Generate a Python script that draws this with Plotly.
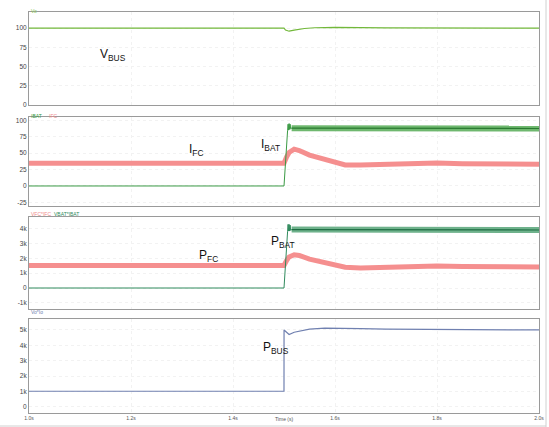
import plotly.graph_objects as go

# ---------------- data ----------------
x_ticks = [1.0, 1.2, 1.4, 1.6, 1.8, 2.0]
x_tick_labels = ["1.0s", "1.2s", "1.4s", "1.6s", "1.8s", "2.0s"]

t_vbus = [1.0, 1.5, 1.503, 1.51, 1.52, 1.54, 1.56, 1.6, 1.7, 1.8, 1.9, 2.0]
vbus = [100, 100, 97.5, 96, 97.5, 99.5, 100.5, 101, 100.4, 100.1, 100, 100]

t_ifc = [1.0, 1.5, 1.505, 1.51, 1.52, 1.53, 1.55, 1.58, 1.6, 1.62, 1.65, 1.7, 1.75, 1.8, 1.85, 1.9, 1.95, 2.0]
ifc = [34.5, 34.5, 44, 51, 56, 54, 47, 41, 36, 32, 32, 33.5, 35, 35, 34, 33.5, 33, 33]

t_ibat = [1.0, 1.5, 1.507, 1.508, 1.509, 1.510, 1.511, 1.512, 1.513, 1.515]
ibat = [0, 0, 84, 94, 85, 95, 86, 94, 87, 88]
t_ibat_band = [1.515, 1.55, 1.6, 1.7, 1.8, 1.9, 2.0]
ibat_band = [88, 88, 87.5, 87.5, 87.5, 87.5, 87.5]

t_pfc = [1.0, 1.5, 1.505, 1.51, 1.52, 1.53, 1.55, 1.58, 1.6, 1.62, 1.65, 1.7, 1.75, 1.8, 1.85, 1.9, 1.95, 2.0]
pfc = [1520, 1520, 1850, 2100, 2250, 2200, 1950, 1750, 1550, 1400, 1350, 1400, 1480, 1480, 1450, 1430, 1420, 1420]

t_pbat = [1.0, 1.5, 1.507, 1.508, 1.509, 1.510, 1.511, 1.512, 1.513, 1.515]
pbat = [0, 0, 3800, 4300, 3850, 4300, 3850, 4250, 3900, 3950]
t_pbat_band = [1.515, 1.55, 1.6, 1.7, 1.8, 1.9, 2.0]
pbat_band = [3950, 3950, 3920, 3920, 3920, 3920, 3920]

t_pbus = [1.0, 1.5, 1.5001, 1.51, 1.52, 1.55, 1.58, 1.6, 1.65, 1.7, 1.8, 1.9, 2.0]
pbus = [1020, 1020, 5000, 4700, 4850, 5050, 5120, 5120, 5080, 5050, 5030, 5010, 5000]

# ---------------- figure ----------------
W, H = 549, 427
def px(x): return x / W
def py(y): return 1 - y / H

x0, x1 = px(29), px(539)
domains = [
    [py(105), py(12)],
    [py(206), py(117)],
    [py(309), py(217)],
    [py(413), py(319)],
]
yranges = [[0, 121], [-30.5, 105], [-1420, 4800], [-390, 5710]]
ytickv = [[0, 25, 50, 75, 100], [-25, 0, 25, 50, 75, 100],
          [-1000, 0, 1000, 2000, 3000, 4000], [0, 1000, 2000, 3000, 4000, 5000]]
ytickt = [["0", "25", "50", "75", "100"], ["-25", "0", "25", "50", "75", "100"],
          ["-1k", "0", "1k", "2k", "3k", "4k"], ["0", "1k", "2k", "3k", "4k", "5k"]]

fig = go.Figure()

def add(tx, ty, i, color, width, opacity=1.0):
    sfx = "" if i == 1 else str(i)
    fig.add_trace(go.Scatter(x=tx, y=ty, mode="lines",
                             line=dict(color=color, width=width),
                             opacity=opacity, xaxis="x" + sfx, yaxis="y" + sfx,
                             showlegend=False, hoverinfo="skip"))

add(t_vbus, vbus, 1, "#72b83a", 1.2)
add(t_ifc, ifc, 2, "#f58a8a", 5, 0.95)
add(t_ibat_band, ibat_band, 2, "#6fb86f", 6)
add(t_ibat_band, ibat_band, 2, "#2a7a30", 1.2)
add(t_ibat, ibat, 2, "#3a9a44", 1)
add(t_pfc, pfc, 3, "#f58a8a", 5, 0.95)
add(t_pbat_band, pbat_band, 3, "#6fb28c", 6)
add(t_pbat_band, pbat_band, 3, "#1f6e44", 1.2)
add(t_pbat, pbat, 3, "#2f8a5c", 1)
add(t_pbus, pbus, 4, "#7080b0", 1.2)

layout = dict(width=W, height=H, margin=dict(l=0, r=0, t=0, b=0, autoexpand=False),
              paper_bgcolor="white", plot_bgcolor="white",
              font=dict(family="Liberation Sans, Arial", color="#333"))
for i in range(4):
    sfx = "" if i == 0 else str(i + 1)
    layout["xaxis" + sfx] = dict(domain=[x0, x1], range=[1.0, 2.0], automargin=False,
                                 anchor="y" + sfx, showline=True, mirror=True,
                                 linecolor="#9a9a9a", linewidth=1,
                                 showgrid=True, gridcolor="#f2f2f2", griddash="dot",
                                 tickvals=x_ticks, ticktext=x_tick_labels,
                                 showticklabels=(i == 3), ticks="",
                                 tickfont=dict(size=5, color="#555"),
                                 zeroline=False)
    layout["yaxis" + sfx] = dict(domain=domains[i], range=yranges[i], automargin=False,
                                 anchor="x" + sfx, showline=True, mirror=True,
                                 linecolor="#9a9a9a", linewidth=1,
                                 showgrid=True, gridcolor="#f2f2f2", griddash="dot",
                                 tickvals=ytickv[i], ticktext=ytickt[i], ticks="",
                                 tickfont=dict(size=6.5, color="#444"),
                                 zeroline=False)
fig.update_layout(**layout)

ann = []
def label(x, y, text, size=12):
    ann.append(dict(x=px(x), y=py(y), xref="paper", yref="paper", text=text,
                    showarrow=False, font=dict(size=size, color="#111",
                                               family="Liberation Sans, Arial")))
label(98, 45, "V<sub>BUS</sub>")
label(196, 150, "I<sub>FC</sub>")
label(270, 135, "I<sub>BAT</sub>")
label(208, 256, "P<sub>FC</sub>")
label(283, 242, "P<sub>BAT</sub>")
label(276, 358, "P<sub>BUS</sub>")

def small(x, y, text, color, anchor="left"):
    ann.append(dict(x=px(x), y=py(y), xref="paper", yref="paper", text=text,
                    xanchor=anchor, showarrow=False, font=dict(size=5, color=color)))
small(29, 6, "Vo", "#8cc860")
small(29, 111, "IBAT", "#3a9a44")
small(47, 111, "IFC", "#f08a8a")
small(29, 214, "VFC*IFC", "#f08a8a")
small(52, 214, "VBAT*IBAT", "#2f8a5c")
small(29, 317, "Vo*Io", "#7080b0")
small(284, 423.5, "Time (s)", "#555", "center")
fig.update_layout(annotations=ann)

fig.add_shape(type="line", xref="paper", yref="paper", x0=px(546), x1=px(546),
              y0=py(427), y1=py(0), line=dict(color="#d0d0d0", width=1))
fig.add_shape(type="line", xref="paper", yref="paper", x0=px(0), x1=px(546),
              y0=py(426), y1=py(426), line=dict(color="#d0d0d0", width=1))

fig.write_html("out.html", config={"displayModeBar": False},
               post_script="document.body.style.margin='0';document.body.style.overflow='hidden';")
